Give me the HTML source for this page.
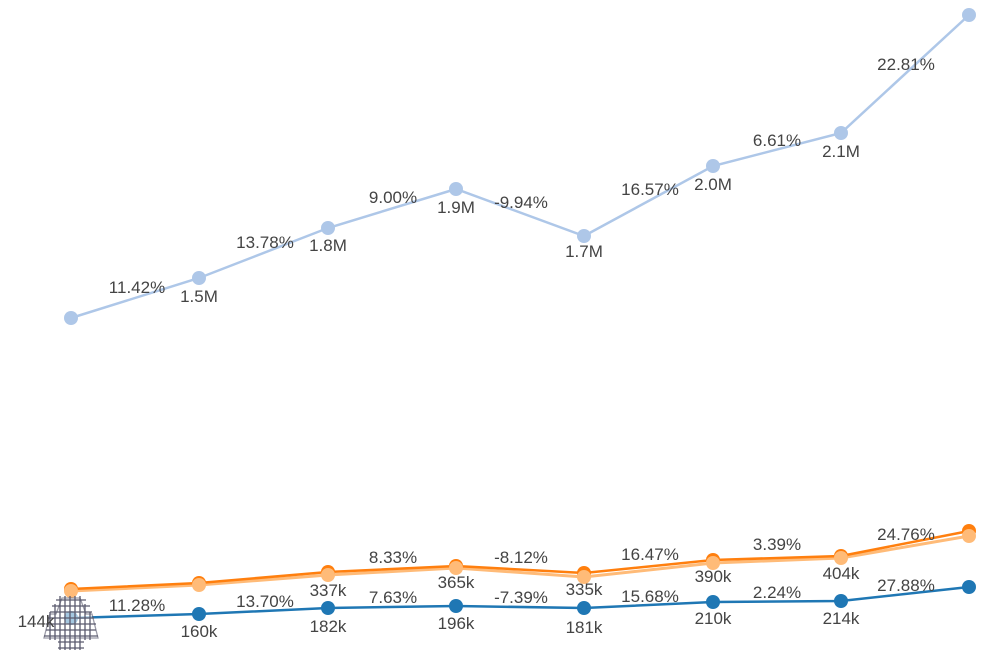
<!DOCTYPE html>
<html><head><meta charset="utf-8"><style>
html,body{margin:0;padding:0;background:#fff;}
svg{display:block;font-family:"Liberation Sans",sans-serif;font-size:17px;fill:#444;}
</style></head><body>
<svg width="988" height="655" viewBox="0 0 988 655">
<g fill="none" stroke-width="2.5">
<polyline stroke="#aec7e8" points="71,318 199,278 328,228 456,189 584,236 713,166 841,133 969,15"/>
<polyline stroke="#ffbb78" stroke-width="3" points="71,591 199,585 328,575 456,568 584,577 713,563 841,558 969,536"/>
<polyline stroke="#ff7f0e" points="71,589 199,583 328,572 456,566 584,573 713,560 841,556 969,531"/>
<polyline stroke="#1f77b4" points="71,618 199,614 328,608 456,606 584,608 713,602 841,601 969,587"/>
</g>
<g fill="#aec7e8">
<circle cx="71" cy="318" r="7"/><circle cx="199" cy="278" r="7"/><circle cx="328" cy="228" r="7"/><circle cx="456" cy="189" r="7"/><circle cx="584" cy="236" r="7"/><circle cx="713" cy="166" r="7"/><circle cx="841" cy="133" r="7"/><circle cx="969" cy="15" r="7"/>
</g>
<g fill="#ff7f0e">
<circle cx="71" cy="589" r="7"/><circle cx="199" cy="583" r="7"/><circle cx="328" cy="572" r="7"/><circle cx="456" cy="566" r="7"/><circle cx="584" cy="573" r="7"/><circle cx="713" cy="560" r="7"/><circle cx="841" cy="556" r="7"/><circle cx="969" cy="531" r="7"/>
</g>
<g fill="#ffbb78">
<circle cx="71" cy="591" r="7"/><circle cx="199" cy="585" r="7"/><circle cx="328" cy="575" r="7"/><circle cx="456" cy="568" r="7"/><circle cx="584" cy="577" r="7"/><circle cx="713" cy="563" r="7"/><circle cx="841" cy="558" r="7"/><circle cx="969" cy="536" r="7"/>
</g>
<g fill="#1f77b4">
<circle cx="71" cy="618" r="7"/><circle cx="199" cy="614" r="7"/><circle cx="328" cy="608" r="7"/><circle cx="456" cy="606" r="7"/><circle cx="584" cy="608" r="7"/><circle cx="713" cy="602" r="7"/><circle cx="841" cy="601" r="7"/><circle cx="969" cy="587" r="7"/>
</g>
<g stroke="#5a5a6e" stroke-width="1.3" fill="none">
<path d="M62,598 L80,598 L86,614 L92,614 L98,638 L44,638 L50,614 L56,614 Z" fill="#fff" opacity="0.6"/>
<path d="M56,600h30M52,606h38M50,612h42M48,618h46M46,624h50M46,630h50M44,636h54M58,642h26M58,648h26"/>
<path d="M60,596v54M65,596v54M70,596v54M75,596v54M80,596v54M55,604v36M85,604v36M50,612v28M90,612v28"/>
</g>
<g text-anchor="middle">
<text x="137" y="293">11.42%</text><text x="199" y="302">1.5M</text>
<text x="265" y="248">13.78%</text><text x="328" y="251">1.8M</text>
<text x="393" y="203">9.00%</text><text x="456" y="213">1.9M</text>
<text x="521" y="208">-9.94%</text><text x="584" y="257">1.7M</text>
<text x="650" y="195">16.57%</text><text x="713" y="190">2.0M</text>
<text x="777" y="146">6.61%</text><text x="841" y="157">2.1M</text>
<text x="906" y="70">22.81%</text>
<text x="393" y="563">8.33%</text>
<text x="521" y="563">-8.12%</text>
<text x="650" y="560">16.47%</text>
<text x="777" y="550">3.39%</text>
<text x="906" y="540">24.76%</text>
<text x="328" y="596">337k</text><text x="456" y="588">365k</text><text x="584" y="595">335k</text><text x="713" y="582">390k</text><text x="841" y="579">404k</text>
<text x="137" y="611">11.28%</text>
<text x="265" y="607">13.70%</text>
<text x="393" y="603">7.63%</text>
<text x="521" y="603">-7.39%</text>
<text x="650" y="602">15.68%</text>
<text x="777" y="598">2.24%</text>
<text x="906" y="591">27.88%</text>
<text x="36" y="627">144k</text>
<text x="199" y="637">160k</text><text x="328" y="632">182k</text><text x="456" y="629">196k</text><text x="584" y="633">181k</text><text x="713" y="624">210k</text><text x="841" y="624">214k</text>
</g>
</svg>
</body></html>
